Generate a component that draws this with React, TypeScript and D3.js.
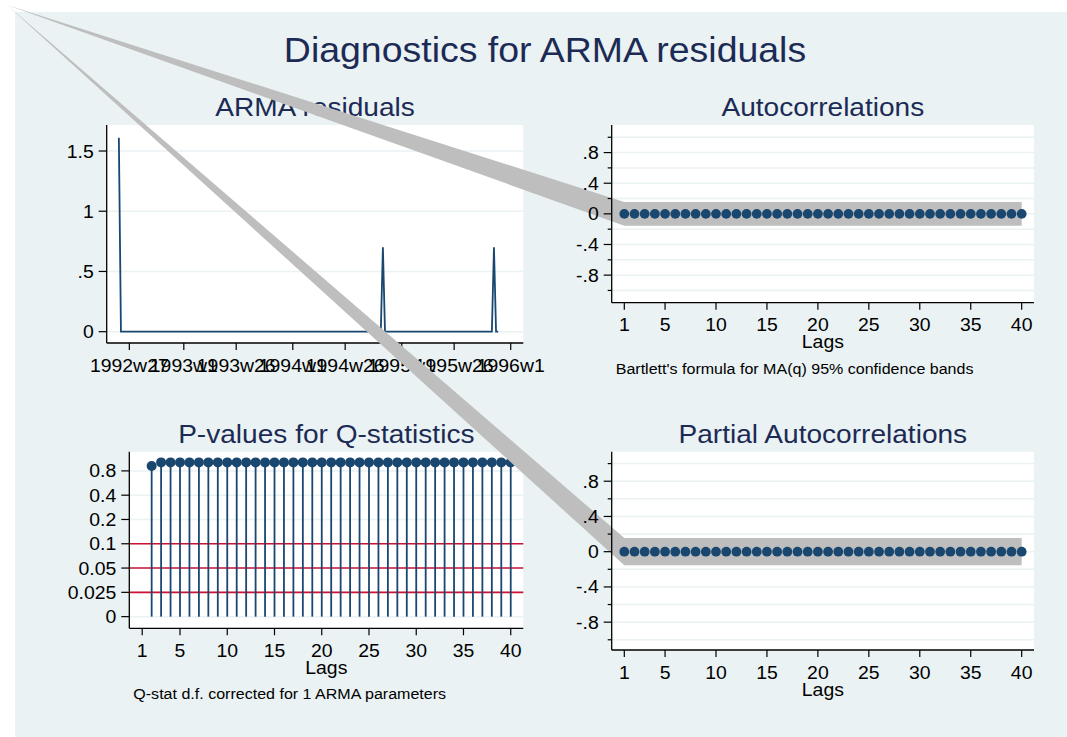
import * as d3 from 'd3';
import type { ReactNode } from 'react';

// ---- data ----
const residDates = ['1992w22', '1992w23', '1994w43', '1994w44', '1994w45', '1995w44', '1995w45', '1995w46', '1995w47'];
const residValues = [1.61, 0, 0, 0.7, 0, 0, 0.7, 0, 0];
const residTickLabels = ['1992w27', '1993w1', '1993w26', '1994w1', '1994w26', '1995w1', '1995w26', '1996w1'];
const residTicks = [0, 0.5, 1, 1.5];

const lags = [1, 2, 3, 4, 5, 6, 7, 8, 9, 10, 11, 12, 13, 14, 15, 16, 17, 18, 19, 20, 21, 22, 23, 24, 25, 26, 27, 28, 29, 30, 31, 32, 33, 34, 35, 36, 37, 38, 39, 40];
const acfValues = [0, 0, 0, 0, 0, 0, 0, 0, 0, 0, 0, 0, 0, 0, 0, 0, 0, 0, 0, 0, 0, 0, 0, 0, 0, 0, 0, 0, 0, 0, 0, 0, 0, 0, 0, 0, 0, 0, 0, 0];
const pacfValues = [0, 0, 0, 0, 0, 0, 0, 0, 0, 0, 0, 0, 0, 0, 0, 0, 0, 0, 0, 0, 0, 0, 0, 0, 0, 0, 0, 0, 0, 0, 0, 0, 0, 0, 0, 0, 0, 0, 0, 0];
const confBand = [0.155, 0.155, 0.155, 0.155, 0.155, 0.155, 0.155, 0.155, 0.155, 0.155, 0.155, 0.155, 0.155, 0.155, 0.155, 0.155, 0.155, 0.155, 0.155, 0.155, 0.155, 0.155, 0.155, 0.155, 0.155, 0.155, 0.155, 0.155, 0.155, 0.155, 0.155, 0.155, 0.155, 0.155, 0.155, 0.155, 0.155, 0.155, 0.155, 0.155];
const lagTicks = [1, 5, 10, 15, 20, 25, 30, 35, 40];
const corrMajor = [-0.8, -0.4, 0, 0.4, 0.8];
const corrMinor = [-1, -0.6, -0.2, 0.2, 0.6, 1];

const qLags = [2, 3, 4, 5, 6, 7, 8, 9, 10, 11, 12, 13, 14, 15, 16, 17, 18, 19, 20, 21, 22, 23, 24, 25, 26, 27, 28, 29, 30, 31, 32, 33, 34, 35, 36, 37, 38, 39, 40];
const qPValues = [0.88, 0.94, 0.94, 0.94, 0.94, 0.94, 0.94, 0.94, 0.94, 0.94, 0.94, 0.94, 0.94, 0.94, 0.94, 0.94, 0.94, 0.94, 0.94, 0.94, 0.94, 0.94, 0.94, 0.94, 0.94, 0.94, 0.94, 0.94, 0.94, 0.94, 0.94, 0.94, 0.94, 0.94, 0.94, 0.94, 0.94, 0.94, 0.94];
const pTicks = [0, 0.025, 0.05, 0.1, 0.2, 0.4, 0.8];
const pRefLines = [0.1, 0.05, 0.025];

// ---- styles ----
const FONT = "'Liberation Sans', Arial, Helvetica, sans-serif";
const BG = '#eaf2f3';
const NAVY = '#1a476f';
const TITLE = '#1c2b55';
const BAND = '#bebebe';
const RED = '#cc1236';
const TICK_FS = 18.5;
// stray point Stata joined to the confidence band polygons
const APEX: [number, number] = [7, 5];

const parseWeek = (s: string) => {
  const [y, w] = s.split('w').map(Number);
  return (y - 1960) * 52 + w - 1;
};
const stataFmt = (v: number) => (v === 0 ? '0' : String(v).replace(/^(-?)0\./, '$1.'));

// Stata's png text comes out a little wider than the font's own metrics
const Txt = ({ x, y, size, sx = 1.05, anchor = 'middle', fill = '#000', children }: {
  x: number; y: number; size: number; sx?: number; anchor?: string; fill?: string; children: ReactNode;
}) => (
  <text transform={`translate(${x},${y}) scale(${sx},1)`} textAnchor={anchor} fontSize={size} fill={fill}>
    {children}
  </text>
);

type Box = { x0: number; x1: number; y0: number; y1: number };

const P1: Box = { x0: 106.7, x1: 523.3, y0: 125, y1: 343 };
const P2: Box = { x0: 611.7, x1: 1034, y0: 125, y1: 302.7 };
const P3: Box = { x0: 129.3, x1: 523.3, y0: 451.7, y1: 628.3 };
const P4: Box = { x0: 611.7, x1: 1034, y0: 451.7, y1: 650 };

const Frame = ({ b, title }: { b: Box; title: string }) => (
  <>
    <rect x={b.x0} y={b.y0} width={b.x1 - b.x0} height={b.y1 - b.y0} fill="#fff" />
    <Txt x={(b.x0 + b.x1) / 2} y={b.y0 - 8.8} size={26} sx={1.08} fill={TITLE}>
      {title}
    </Txt>
  </>
);

const Axes = ({
  b, yTicks, yMinor = [], xTicks, fmtY, fmtX,
  y, x, xTitle, note,
}: {
  b: Box; yTicks: number[]; yMinor?: number[]; xTicks: any[];
  fmtY: (v: number) => string; fmtX: (v: any) => string;
  y: (v: number) => number; x: (v: any) => number; xTitle?: string; note?: string;
}) => (
  <g>
    <line x1={b.x0} x2={b.x0} y1={b.y0} y2={b.y1} stroke="#000" strokeWidth={1.3} />
    <line x1={b.x0} x2={b.x1} y1={b.y1} y2={b.y1} stroke="#000" strokeWidth={1.3} />
    {yTicks.map((t) => (
      <g key={'y' + t}>
        <line x1={b.x0 - 8} x2={b.x0} y1={y(t)} y2={y(t)} stroke="#000" strokeWidth={1.2} />
        <Txt x={b.x0 - 13} y={y(t) + 6.5} size={TICK_FS} anchor="end">
          {fmtY(t)}
        </Txt>
      </g>
    ))}
    {yMinor.map((t) => (
      <line key={'m' + t} x1={b.x0 - 4} x2={b.x0} y1={y(t)} y2={y(t)} stroke="#000" strokeWidth={1.2} />
    ))}
    {xTicks.map((t) => (
      <g key={'x' + t}>
        <line x1={x(t)} x2={x(t)} y1={b.y1} y2={b.y1 + 7} stroke="#000" strokeWidth={1.2} />
        <Txt x={x(t)} y={b.y1 + 28.5} size={TICK_FS}>
          {fmtX(t)}
        </Txt>
      </g>
    ))}
    {xTitle && (
      <Txt x={(b.x0 + b.x1) / 2} y={b.y1 + 45.5} size={TICK_FS}>
        {xTitle}
      </Txt>
    )}
    {note && (
      <Txt x={b.x0 + 4} y={b.y1 + 71} size={15.5} sx={1.035} anchor="start">
        {note}
      </Txt>
    )}
  </g>
);

const ResidPanel = () => {
  const b = P1;
  const x = d3.scaleLinear().domain([1679.2, 1878]).range([b.x0, b.x1]);
  const y = d3.scaleLinear().domain([-0.094, 1.716]).range([b.y1, b.y0]);
  const pts = residDates.map((d, i) => [parseWeek(d), residValues[i]] as [number, number]);
  const line = d3.line<[number, number]>().x((d) => x(d[0])).y((d) => y(d[1]));
  return (
    <g>
      <Frame b={b} title="ARMA residuals" />
      {residTicks.map((t) => (
        <line key={t} x1={b.x0} x2={b.x1} y1={y(t)} y2={y(t)} stroke={BG} strokeWidth={1.5} />
      ))}
      <path d={line(pts) ?? ''} fill="none" stroke={NAVY} strokeWidth={1.8} />
      <Axes
        b={b} yTicks={residTicks} xTicks={residTickLabels}
        fmtY={stataFmt} fmtX={(s) => s}
        y={y} x={(s: string) => x(parseWeek(s))}
      />
    </g>
  );
};

const CorrPanel = ({ b, title, values, yDomain, note }: {
  b: Box; title: string; values: number[]; yDomain: [number, number]; note?: string;
}) => {
  const x = d3.scaleLinear().domain([-0.237, 41.21]).range([b.x0, b.x1]);
  const y = d3.scaleLinear().domain(yDomain).range([b.y1, b.y0]);
  const upper = lags.map((l, i) => [x(l), y(confBand[i])]);
  const lower = lags.map((l, i) => [x(l), y(-confBand[i])]).reverse();
  const poly = [APEX, ...upper, ...lower];
  return (
    <g>
      <Frame b={b} title={title} />
      {[...corrMajor, ...corrMinor].map((t) => (
        <line key={t} x1={b.x0} x2={b.x1} y1={y(t)} y2={y(t)} stroke={BG} strokeWidth={1.5} />
      ))}
      <polygon points={poly.map((p) => p.join(',')).join(' ')} fill={BAND} />
      {lags.map((l, i) => (
        <circle key={l} cx={x(l)} cy={y(values[i])} r={4.9} fill={NAVY} />
      ))}
      <Axes
        b={b} yTicks={corrMajor} yMinor={corrMinor} xTicks={lagTicks}
        fmtY={stataFmt} fmtX={(v) => String(v)}
        y={y} x={x} xTitle="Lags" note={note}
      />
    </g>
  );
};

const QPanel = () => {
  const b = P3;
  const x = d3.scaleLinear().domain([-0.366, 41.33]).range([b.x0, b.x1]);
  // evenly spaced labelled levels (0, .025, ... .8) with 1 half a step above .8
  const step = d3.scaleLinear().domain([-0.48, 6.79]).range([b.y1, b.y0]);
  const y = d3.scaleLinear()
    .domain([...pTicks, 1])
    .range([...pTicks.map((_, i) => step(i)), step(pTicks.length - 0.5)]);
  return (
    <g>
      <Frame b={b} title="P-values for Q-statistics" />
      {pTicks.map((t) => (
        <line key={t} x1={b.x0} x2={b.x1} y1={y(t)} y2={y(t)} stroke={BG} strokeWidth={1.5} />
      ))}
      {pRefLines.map((t) => (
        <line key={'r' + t} x1={b.x0} x2={b.x1} y1={y(t)} y2={y(t)} stroke={RED} strokeWidth={1.6} />
      ))}
      {qLags.map((l, i) => (
        <g key={l}>
          <line x1={x(l)} x2={x(l)} y1={y(0)} y2={y(qPValues[i])} stroke={NAVY} strokeWidth={1.8} />
          <circle cx={x(l)} cy={y(qPValues[i])} r={5} fill={NAVY} />
        </g>
      ))}
      <Axes
        b={b} yTicks={pTicks} xTicks={lagTicks}
        fmtY={(v) => String(v)} fmtX={(v) => String(v)}
        y={y} x={x} xTitle="Lags" note="Q-stat d.f. corrected for 1 ARMA parameters"
      />
    </g>
  );
};

export default function App() {
  return (
    <svg
      width={1067}
      height={737}
      style={{ position: 'absolute', left: 0, top: 0, fontFamily: FONT }}
    >
      <rect width={1067} height={737} fill="#fff" />
      <rect x={15} y={12} width={1052} height={725} fill={BG} />
      <Txt x={545} y={61.7} size={35} sx={1.07} fill={TITLE}>
        Diagnostics for ARMA residuals
      </Txt>
      <ResidPanel />
      <CorrPanel
        b={P2} title="Autocorrelations" values={acfValues} yDomain={[-1.16, 1.16]}
        note="Bartlett's formula for MA(q) 95% confidence bands"
      />
      <QPanel />
      <CorrPanel b={P4} title="Partial Autocorrelations" values={pacfValues} yDomain={[-1.116, 1.135]} />
    </svg>
  );
}
